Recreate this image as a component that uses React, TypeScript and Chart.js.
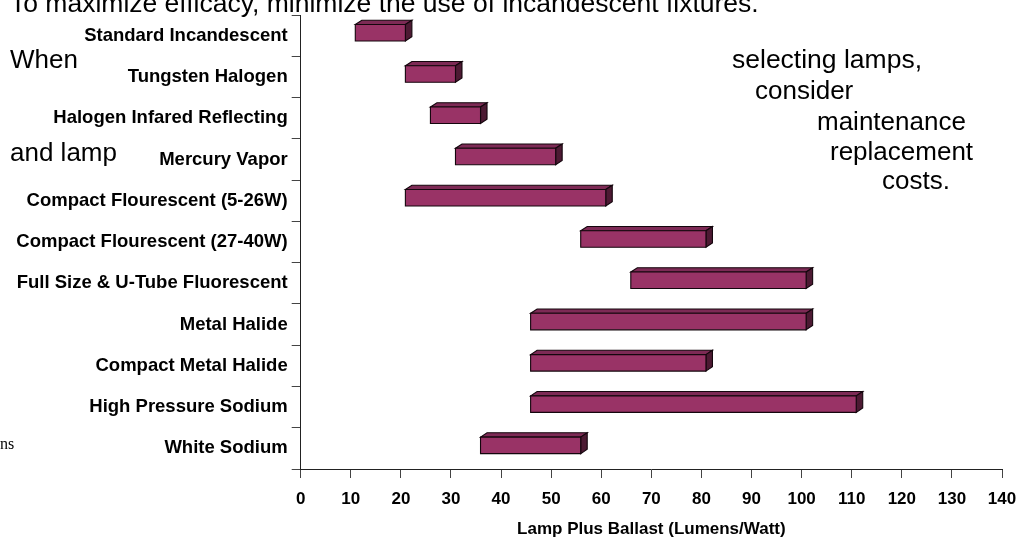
import React, { useEffect, useRef } from "react";
import { Chart, registerables } from "chart.js";

Chart.register(...registerables);

const categories: string[] = [
  "Standard Incandescent",
  "Tungsten Halogen",
  "Halogen Infared Reflecting",
  "Mercury Vapor",
  "Compact Flourescent (5-26W)",
  "Compact Flourescent (27-40W)",
  "Full Size & U-Tube Fluorescent",
  "Metal Halide",
  "Compact Metal Halide",
  "High Pressure Sodium",
  "White Sodium",
];
const lowValues: number[] = [10, 20, 25, 30, 20, 55, 65, 45, 45, 45, 35];
const highValues: number[] = [20, 30, 35, 50, 60, 80, 100, 100, 80, 110, 55];
const xMin = 0;
const xMax = 140;
const xStep = 10;
const xTitle = "Lamp Plus Ballast (Lumens/Watt)";

const titleText = "To maximize efficacy, minimize the use of incandescent fixtures.";

const FONT = "'Liberation Sans', Arial, Helvetica, sans-serif";

type Note = { text: string; x: number; baseline: number; size: number; serif?: boolean };
const notes: Note[] = [
  { text: titleText, x: 10, baseline: 12, size: 26.5 },
  { text: "When", x: 10, baseline: 68, size: 26 },
  { text: "and lamp", x: 10, baseline: 161, size: 26 },
  { text: "selecting lamps,", x: 732, baseline: 68, size: 26.5 },
  { text: "consider", x: 755, baseline: 99, size: 26 },
  { text: "maintenance", x: 817, baseline: 130, size: 26 },
  { text: "replacement", x: 830, baseline: 160, size: 26 },
  { text: "costs.", x: 882, baseline: 189, size: 26 },
  { text: "ns", x: 0, baseline: 450, size: 16, serif: true },
];

const bar3d = {
  id: "bar3d",
  afterDatasetsDraw(chart: any) {
    const ctx = chart.ctx;
    const meta = chart.getDatasetMeta(0);
    const offX = 4.5;
    const offY = -3;
    const dx = 6.5;
    const dy = -4.3;
    ctx.save();
    ctx.lineWidth = 1.1;
    ctx.strokeStyle = "#14060d";
    ctx.lineJoin = "miter";
    meta.data.forEach((el: any) => {
      const p = el.getProps(["x", "y", "base", "height"], true);
      const L = Math.min(p.x, p.base) + offX;
      const R = Math.max(p.x, p.base) + offX;
      const T = p.y + offY - p.height / 2;
      const B = p.y + offY + p.height / 2;
      // top face
      ctx.beginPath();
      ctx.moveTo(L, T);
      ctx.lineTo(L + dx, T + dy);
      ctx.lineTo(R + dx, T + dy);
      ctx.lineTo(R, T);
      ctx.closePath();
      ctx.fillStyle = "#7d2a55";
      ctx.fill();
      ctx.stroke();
      // side face
      ctx.beginPath();
      ctx.moveTo(R, T);
      ctx.lineTo(R + dx, T + dy);
      ctx.lineTo(R + dx, B + dy);
      ctx.lineTo(R, B);
      ctx.closePath();
      ctx.fillStyle = "#4d1a33";
      ctx.fill();
      ctx.stroke();
      // front face
      ctx.beginPath();
      ctx.rect(L, T, R - L, B - T);
      ctx.fillStyle = "#993366";
      ctx.fill();
      ctx.stroke();
    });
    ctx.restore();
  },
};

export default function App() {
  const canvasRef = useRef<HTMLCanvasElement | null>(null);

  useEffect(() => {
    if (!canvasRef.current) return;
    const chart = new Chart(canvasRef.current, {
      type: "bar",
      data: {
        labels: categories,
        datasets: [
          {
            label: "Efficacy range",
            data: categories.map((_, i) => [lowValues[i], highValues[i]]) as any,
            backgroundColor: "rgba(0,0,0,0)",
            borderWidth: 0,
            barPercentage: 0.4,
            categoryPercentage: 1,
          },
        ],
      },
      options: {
        indexAxis: "y",
        responsive: false,
        animation: false,
        events: [],
        layout: { padding: { top: 10.7, right: 27, left: 0, bottom: 0 } },
        plugins: {
          legend: { display: false },
          tooltip: { enabled: false },
          title: { display: false },
        },
        scales: {
          x: {
            type: "linear",
            min: xMin,
            max: xMax,
            ticks: {
              stepSize: xStep,
              color: "#000",
              font: { family: FONT, size: 17, weight: "bold" },
              padding: 11,
              maxRotation: 0,
            },
            grid: {
              drawOnChartArea: false,
              drawTicks: true,
              tickLength: 9,
              color: "#444",
            },
            border: { color: "#222", width: 1 },
            title: {
              display: true,
              text: xTitle,
              color: "#000",
              font: { family: FONT, size: 17, weight: "bold" },
              padding: { top: 0, bottom: 0 },
            },
            afterFit: (s: any) => {
              s.height = 71;
            },
          },
          y: {
            type: "category",
            offset: true,
            ticks: {
              color: "#000",
              font: { family: FONT, size: 18.5, weight: "bold" },
              padding: 4,
              autoSkip: false,
            },
            grid: {
              offset: true,
              drawOnChartArea: false,
              drawTicks: true,
              tickLength: 9,
              color: "#444",
            },
            border: { color: "#222", width: 1 },
            afterFit: (s: any) => {
              s.width = 300.7;
            },
          },
        },
      } as any,
      plugins: [bar3d],
    });
    return () => chart.destroy();
  }, []);

  return (
    <div
      style={{
        position: "fixed",
        left: 0,
        top: 0,
        width: 1029,
        height: 540,
        overflow: "hidden",
        background: "#fff",
      }}
    >
      <canvas ref={canvasRef} width={1029} height={540} style={{ position: "absolute", left: 0, top: 0 }} />
      {notes.map((n, i) => (
        <div
          key={i}
          style={{
            position: "absolute",
            left: n.x,
            top: n.baseline - 0.8465 * n.size,
            fontFamily: n.serif ? "'Liberation Serif', 'Times New Roman', serif" : FONT,
            fontSize: n.size,
            lineHeight: `${n.size}px`,
            whiteSpace: "nowrap",
            color: "#000",
          }}
        >
          {n.text}
        </div>
      ))}
    </div>
  );
}
